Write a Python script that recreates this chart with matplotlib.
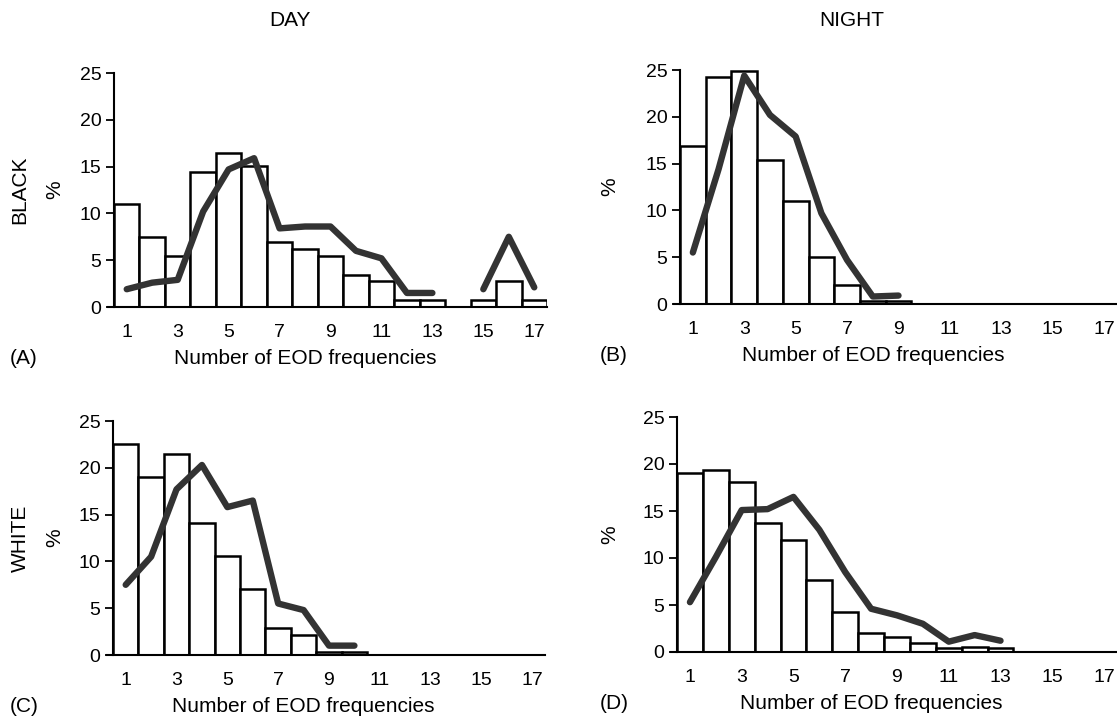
import numpy as np
import matplotlib.pyplot as plt

plt.rcParams['font.family'] = ['Liberation Sans', 'DejaVu Sans']

bins = np.arange(1, 18)
tick_labels = [1, 3, 5, 7, 9, 11, 13, 15, 17]

# bar heights (%) per number of EOD frequencies, bins 1..17
bars_black_day = [11.0, 7.5, 5.4, 14.4, 16.5, 15.1, 6.9, 6.2, 5.5, 3.4, 2.8, 0.7, 0.7, 0, 0.7, 2.8, 0.7]
bars_black_night = [16.9, 24.3, 24.9, 15.4, 11.0, 5.0, 2.0, 0.35, 0.35, 0, 0, 0, 0, 0, 0, 0, 0]
bars_white_day = [22.5, 19.0, 21.5, 14.1, 10.6, 7.1, 2.9, 2.1, 0.35, 0.35, 0, 0, 0, 0, 0, 0, 0]
bars_white_night = [19.0, 19.4, 18.1, 13.7, 11.9, 7.7, 4.3, 2.0, 1.6, 1.0, 0.45, 0.55, 0.4, 0, 0, 0, 0]

# line series (%), nan = not drawn
line_black_day = [1.9, 2.6, 2.9, 10.2, 14.7, 15.9, 8.4, 8.6, 8.6, 6.0, 5.2, 1.5, 1.5, np.nan, 1.9, 7.5, 2.1]
line_black_night = [5.5, 14.4, 24.4, 20.2, 17.9, 9.7, 4.7, 0.8, 0.9] + [np.nan] * 8
line_white_day = [7.5, 10.5, 17.7, 20.3, 15.8, 16.5, 5.5, 4.8, 1.0, 1.0] + [np.nan] * 7
line_white_night = [5.3, 10.1, 15.1, 15.2, 16.5, 13.0, 8.5, 4.6, 3.9, 3.0, 1.1, 1.8, 1.2] + [np.nan] * 4

W, H = 1117, 720
fig = plt.figure(figsize=(W / 100, H / 100), dpi=100)

TICK_FS = 14
LABEL_FS = 15


def px_axes(left, right, y0, y25):
    return fig.add_axes([left / W, (H - y0) / H, (right - left) / W, (y0 - y25) / H])


def panel(ax, heights, line, letter, ylabel_x, row_label=None):
    h = np.array(heights, dtype=float)
    keep = h > 0
    ax.bar(bins[keep], h[keep], width=1.0, facecolor='white', edgecolor='black',
           linewidth=1.8, zorder=2)
    ax.plot(bins, line, color='#333333', linewidth=4.6, solid_capstyle='round',
            solid_joinstyle='round', zorder=3)
    ax.set_xlim(0.5, 17.5)
    ax.set_ylim(0, 25)
    ax.set_yticks([0, 5, 10, 15, 20, 25])
    ax.set_xticks(tick_labels)
    ax.tick_params(axis='y', direction='out', length=6, width=1.3, labelsize=TICK_FS, pad=3)
    ax.tick_params(axis='x', length=0, labelsize=TICK_FS, pad=12)
    for s in ('top', 'right'):
        ax.spines[s].set_visible(False)
    ax.spines['left'].set_linewidth(1.5)
    ax.spines['bottom'].set_linewidth(1.5)
    ax.spines['bottom'].set_bounds(0.26, 17.5)
    ax.text(8.0, -5.5, 'Number of EOD frequencies', ha='center', va='center', fontsize=LABEL_FS)
    ax.text(ylabel_x[0], -5.5, letter, ha='left', va='center', fontsize=LABEL_FS)
    ax.text(ylabel_x[1], 12.5, '%', rotation=90, ha='center', va='center', fontsize=LABEL_FS)
    if row_label:
        ax.text(ylabel_x[2], 12.5, row_label, rotation=90, ha='center', va='center', fontsize=LABEL_FS)


axA = px_axes(114, 547, 307, 73)
axB = px_axes(680, 1117, 304, 70)
axC = px_axes(113, 545, 655, 421)
axD = px_axes(677, 1117, 652, 417)

kA = 17 / 433
kB = 17 / 437
panel(axA, bars_black_day, line_black_day, '(A)', (0.5 - 104 * kA, 0.5 - 59 * kA, 0.5 - 94 * kA), 'BLACK')
panel(axB, bars_black_night, line_black_night, '(B)', (0.5 - 80 * kB, 0.5 - 70 * kB))
panel(axC, bars_white_day, line_white_day, '(C)', (0.5 - 103 * kA, 0.5 - 58 * kA, 0.5 - 93 * kA), 'WHITE')
panel(axD, bars_white_night, line_white_night, '(D)', (0.5 - 77 * kB, 0.5 - 67 * kB))

fig.text(290 / W, 1 - 21 / H, 'DAY', ha='center', va='center', fontsize=LABEL_FS)
fig.text(852 / W, 1 - 21 / H, 'NIGHT', ha='center', va='center', fontsize=LABEL_FS)

fig.savefig('out.png', dpi=100)
